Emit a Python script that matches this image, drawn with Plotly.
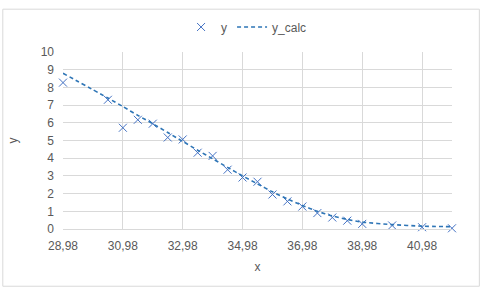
import plotly.graph_objects as go

x_vals = [28.98, 30.48, 30.98, 31.48, 31.98, 32.48, 32.98, 33.48, 33.98, 34.48, 34.98,
          35.48, 35.98, 36.48, 36.98, 37.48, 37.98, 38.48, 38.98, 39.98, 40.98, 41.98]
y_vals = [8.27, 7.3, 5.72, 6.17, 5.95, 5.17, 5.06, 4.31, 4.13, 3.35, 2.91,
          2.67, 1.95, 1.56, 1.27, 0.9, 0.65, 0.47, 0.29, 0.2, 0.1, 0.04]
y_calc = [8.8, 7.4, 6.92, 6.42, 5.95, 5.45, 4.95, 4.45, 3.97, 3.48, 3.0,
          2.55, 2.1, 1.7, 1.33, 1.0, 0.74, 0.54, 0.39, 0.25, 0.16, 0.13]
x_ticks = [28.98, 30.98, 32.98, 34.98, 36.98, 38.98, 40.98]
x_tick_labels = ["28,98", "30,98", "32,98", "34,98", "36,98", "38,98", "40,98"]
y_ticks = [0, 1, 2, 3, 4, 5, 6, 7, 8, 9, 10]

W, H = 480, 289
ml, mr, mt, mb = 61, 28, 45, 60
pw, ph = W - ml - mr, H - mt - mb

font = dict(family="Liberation Sans, Arial, sans-serif", size=12, color="#595959")

fig = go.Figure()
fig.add_trace(go.Scatter(
    x=x_vals, y=y_vals, mode="markers", name="y",
    marker=dict(symbol="x-thin", size=8, line=dict(width=1, color="#4472C4"), color="#4472C4"),
    cliponaxis=False,
))
fig.add_trace(go.Scatter(
    x=x_vals, y=y_calc, mode="lines", name="y_calc",
    line=dict(color="#2E75B6", width=1.6, dash="4px,3px", shape="spline", smoothing=0.6),
    cliponaxis=False,
))

fig.update_layout(
    width=W, height=H,
    margin=dict(l=ml, r=mr, t=mt, b=mb),
    paper_bgcolor="white", plot_bgcolor="white",
    font=font,
    showlegend=True,
    legend=dict(orientation="h", x=0.5 - 11 / pw, xanchor="center", y=1 + 26 / ph, yanchor="middle",
                font=font, itemwidth=30, bgcolor="rgba(0,0,0,0)"),
    xaxis=dict(
        range=[28.98, 41.98], tickvals=x_ticks, ticktext=x_tick_labels,
        showgrid=True, gridcolor="#d9d9d9", gridwidth=1,
        showline=True, linecolor="#d9d9d9", linewidth=1,
        zeroline=False, ticks="", tickfont=font, ticklabelstandoff=6,
        title=dict(text="x", font=font, standoff=10),
    ),
    yaxis=dict(
        range=[0, 10], tickvals=y_ticks,
        showgrid=True, gridcolor="#d9d9d9", gridwidth=1,
        showline=False, zeroline=False, ticks="", tickfont=font, ticklabelstandoff=8,
        title=dict(text="y", font=font, standoff=20),
    ),
    shapes=[dict(
        type="rect", xref="paper", yref="paper",
        x0=(-ml + 0.5) / pw, x1=1 + (mr - 0.5) / pw,
        y0=(-mb + 0.5) / ph, y1=1 + (mt - 0.5) / ph,
        line=dict(color="#d9d9d9", width=1), layer="below",
    )],
)

fig.write_html("out.html")
